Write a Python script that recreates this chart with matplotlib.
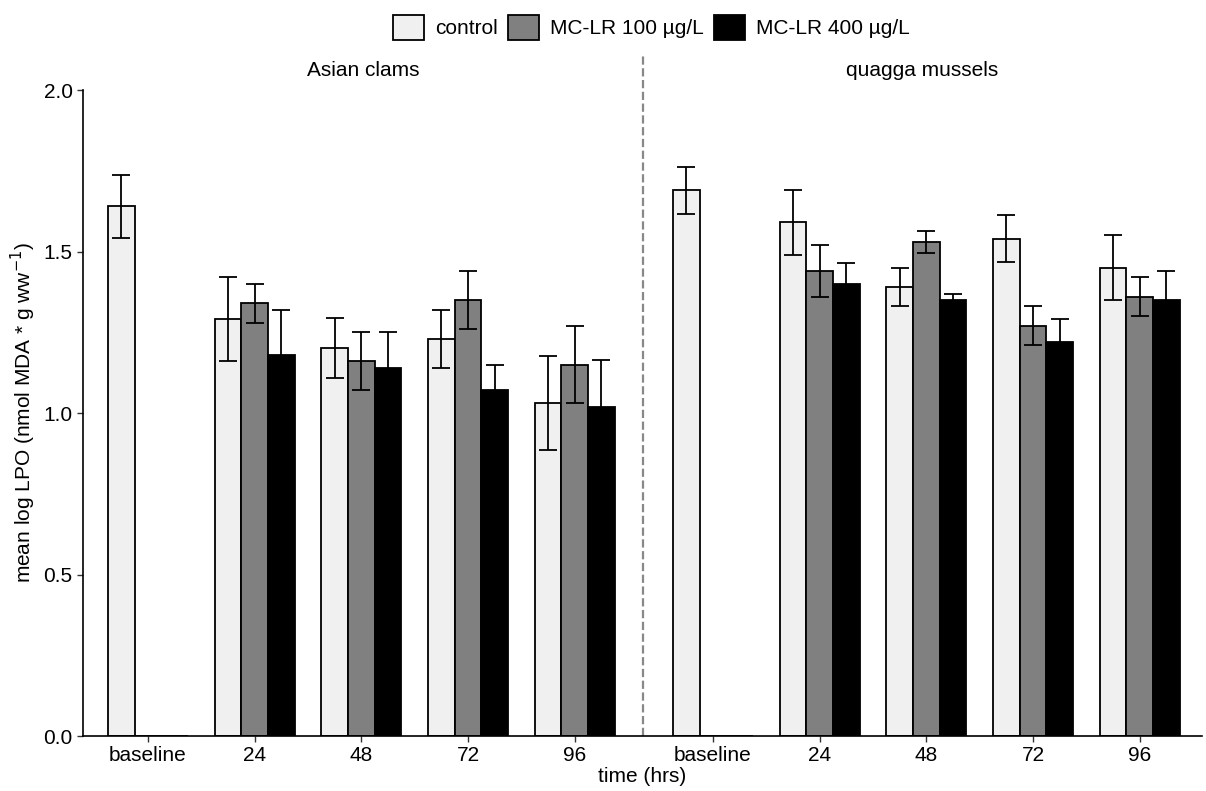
import numpy as np
import matplotlib.pyplot as plt

plt.rcParams['font.family'] = ['Liberation Sans', 'DejaVu Sans']

times = ['baseline', '24', '48', '72', '96']
treatments = ['control', 'MC-LR 100 µg/L', 'MC-LR 400 µg/L']
colors = ['#f0f0f0', '#808080', '#000000']

# Asian clams: mean and error half-width per treatment
clam_mean = [[1.64, 1.29, 1.20, 1.23, 1.03],
             [0.0, 1.34, 1.16, 1.35, 1.15],
             [0.0, 1.18, 1.14, 1.07, 1.02]]
clam_err = [[0.097, 0.13, 0.093, 0.09, 0.145],
            [np.nan, 0.06, 0.09, 0.09, 0.12],
            [np.nan, 0.14, 0.11, 0.08, 0.145]]

# quagga mussels
quag_mean = [[1.69, 1.59, 1.39, 1.54, 1.45],
             [0.0, 1.44, 1.53, 1.27, 1.36],
             [0.0, 1.40, 1.35, 1.22, 1.35]]
quag_err = [[0.073, 0.10, 0.06, 0.073, 0.10],
            [np.nan, 0.08, 0.035, 0.06, 0.06],
            [np.nan, 0.065, 0.02, 0.07, 0.09]]

fig = plt.figure(figsize=(12.06, 7.91), dpi=100)
ax = fig.add_axes([0.0688, 0.0695, 0.928, 0.8167])

w = 0.25
left_x = np.arange(5)
right_x = np.arange(5) + 5.295

for panel_x, means, errs in [(left_x, clam_mean, clam_err), (right_x, quag_mean, quag_err)]:
    for k in range(3):
        xs = panel_x + (k - 1) * w
        ax.bar(xs, means[k], width=w, color=colors[k], edgecolor='black',
               linewidth=1.3, label=treatments[k] if panel_x is left_x else None, zorder=2)
        ax.errorbar(xs, means[k], yerr=errs[k], fmt='none', ecolor='black',
                    elinewidth=1.3, capsize=6.5, capthick=1.3, zorder=3)

ax.set_xlim(-0.609, 9.88)
ax.set_ylim(0, 2.0)
ax.set_yticks([0.0, 0.5, 1.0, 1.5, 2.0])
ax.set_yticklabels(['0.0', '0.5', '1.0', '1.5', '2.0'])
ax.set_xticks(np.concatenate([left_x, right_x]))
ax.set_xticklabels(times + times)
ax.tick_params(labelsize=15, colors='#333333', labelcolor='black', length=4, width=1)

for s in ['top', 'right']:
    ax.spines[s].set_visible(False)
for s in ['left', 'bottom']:
    ax.spines[s].set_linewidth(1.2)

ax.axvline(4.64, ymin=0, ymax=1.054, color='#888888', linestyle='--',
           linewidth=1.6, clip_on=False, zorder=1)

ax.text(2.015, 2.03, 'Asian clams', ha='center', va='bottom', fontsize=15)
ax.text(7.26, 2.03, 'quagga mussels', ha='center', va='bottom', fontsize=15)

ax.set_ylabel('mean log LPO (nmol MDA * g ww$^{-1}$)', fontsize=15)
ax.set_xlabel('time (hrs)', fontsize=15, labelpad=1)

fig.legend(loc='upper center', bbox_to_anchor=(0.54, 1.005), ncol=3, frameon=False,
           fontsize=15, handlelength=1.5, handleheight=1.5, columnspacing=0.5,
           handletextpad=0.5)

fig.savefig('out.png', dpi=100)
